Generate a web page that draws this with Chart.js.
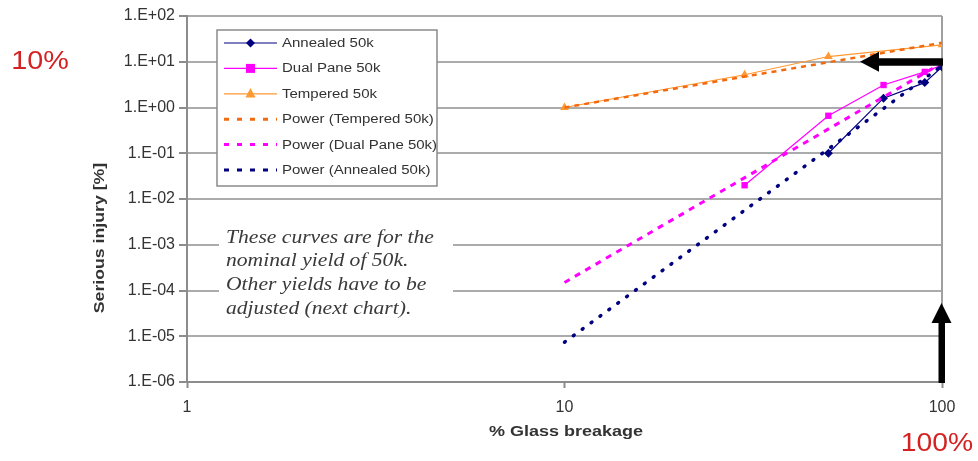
<!DOCTYPE html>
<html>
<head>
<meta charset="utf-8">
<script src="https://cdn.jsdelivr.net/npm/chart.js@4/dist/chart.umd.min.js"></script>
<style>
  html, body { margin: 0; padding: 0; background: #ffffff; }
  #wrap { width: 978px; height: 461px; position: relative; }
</style>
</head>
<body>
<div id="wrap"><canvas id="chart" width="978" height="461"></canvas></div>
<script>
// Measured points (x = % glass breakage, y = serious injury %)
const annealedX = [50, 70, 90, 100];
const annealedY = [0.1, 1.6, 3.5, 7.7];
const dualX = [30, 50, 70, 90, 100];
const dualY = [0.02, 0.66, 3.1, 6.0, 8.5];
const temperedX = [10, 30, 50, 100];
const temperedY = [1.0, 5.2, 13, 23.5];

// Power trendlines (straight on log-log axes): end points at 10% and 100%
const trendX = [10, 100];
const trendTemperedY = [1.0, 26];
const trendDualY = [1.5e-4, 9.4];
const trendAnnealedY = [7.4e-6, 8.2];

const seriesNames = ['Annealed 50k', 'Dual Pane 50k', 'Tempered 50k',
  'Power (Tempered 50k)', 'Power (Dual Pane 50k)', 'Power (Annealed 50k)'];

const xTickValues = [1, 10, 100];
const xTickLabels = ['1', '10', '100'];
const yTickValues = [1e-6, 1e-5, 1e-4, 1e-3, 1e-2, 1e-1, 1, 10, 100];
const yTickLabels = ['1.E-06', '1.E-05', '1.E-04', '1.E-03', '1.E-02', '1.E-01', '1.E+00', '1.E+01', '1.E+02'];

const noteLines = ['These curves are for the', 'nominal yield of 50k.', 'Other yields have to be', 'adjusted (next chart).'];

const NAVY = '#000080', MAGENTA = '#ff00ff', ORANGE = '#ff9933', ORANGE_DARK = '#f26a10';
const SANS = '"Liberation Sans", Arial, sans-serif';

function pts(xs, ys) { return xs.map((x, i) => ({ x: x, y: ys[i] })); }

// Text drawn slightly wide along its reading direction
function wideText(ctx, txt, x, y, font, color, align, sx, rot) {
  ctx.save();
  ctx.translate(x, y);
  if (rot) ctx.rotate(rot);
  ctx.scale(sx, 1);
  ctx.font = font;
  ctx.fillStyle = color;
  ctx.textAlign = align;
  ctx.textBaseline = 'middle';
  ctx.fillText(txt, 0, 0);
  ctx.restore();
}

function marker(ctx, style, x, y, r, color) {
  ctx.save();
  ctx.fillStyle = color;
  ctx.beginPath();
  if (style === 'rectRot') {
    ctx.moveTo(x, y - r); ctx.lineTo(x + r, y); ctx.lineTo(x, y + r); ctx.lineTo(x - r, y);
  } else if (style === 'rect') {
    ctx.rect(x - r, y - r, 2 * r, 2 * r);
  } else {
    ctx.moveTo(x, y - r * 1.15); ctx.lineTo(x + r, y + r * 0.75); ctx.lineTo(x - r, y + r * 0.75);
  }
  ctx.closePath();
  ctx.fill();
  ctx.restore();
}

const legendItems = [
  { color: NAVY, dash: [], width: 1.2, marker: 'rectRot', r: 4.5 },
  { color: MAGENTA, dash: [], width: 1.2, marker: 'rect', r: 4.5 },
  { color: ORANGE, dash: [], width: 1.2, marker: 'triangle', r: 5 },
  { color: ORANGE_DARK, dash: [5, 8], width: 3, cap: 'butt' },
  { color: MAGENTA, dash: [5, 8], width: 3, cap: 'butt' },
  { color: NAVY, dash: [5, 8], width: 3, cap: 'butt' }
];

const decorations = {
  id: 'decorations',
  beforeDatasetsDraw(chart) {
    const ctx = chart.ctx, a = chart.chartArea;
    // right frame line of the plot area
    ctx.save();
    ctx.strokeStyle = '#a0a0a0';
    ctx.lineWidth = 2;
    ctx.beginPath();
    ctx.moveTo(a.right, a.top);
    ctx.lineTo(a.right, a.bottom);
    ctx.stroke();
    ctx.restore();
  },
  afterDraw(chart) {
    const ctx = chart.ctx, a = chart.chartArea;
    const xs = chart.scales.x, ys = chart.scales.y;

    // note box
    ctx.save();
    ctx.fillStyle = '#ffffff';
    ctx.fillRect(219, 222, 234, 100);
    ctx.restore();
    noteLines.forEach((t, i) => {
      wideText(ctx, t, 226, 238 + i * 23.6, 'italic 18px "Liberation Serif", "Times New Roman", serif', '#3a3a3a', 'left', 1.2);
    });

    // legend
    const lx = 217, ly = 30, lw = 220, lh = 156;
    ctx.save();
    ctx.fillStyle = '#ffffff';
    ctx.fillRect(lx, ly, lw, lh);
    ctx.strokeStyle = '#8a8a8a';
    ctx.lineWidth = 1.5;
    ctx.strokeRect(lx, ly, lw, lh);
    ctx.restore();
    legendItems.forEach((it, i) => {
      const y = 43 + i * 25.4;
      ctx.save();
      ctx.strokeStyle = it.color;
      ctx.lineWidth = it.width;
      ctx.lineCap = it.cap || 'butt';
      ctx.setLineDash(it.dash);
      ctx.beginPath();
      ctx.moveTo(224, y);
      ctx.lineTo(277, y);
      ctx.stroke();
      ctx.restore();
      if (it.marker) marker(ctx, it.marker, 250.5, y, it.r, it.color);
      wideText(ctx, seriesNames[i], 282, y + 0.5, '12.5px ' + SANS, '#333333', 'left', 1.2);
    });

    // arrows pointing at 10% injury and 100% breakage
    const yTen = ys.getPixelForValue(10);
    const xHund = xs.getPixelForValue(100);
    ctx.save();
    ctx.fillStyle = '#000000';
    // horizontal arrow
    ctx.fillRect(877, yTen - 3.5, a.right + 1 - 877, 7.5);
    ctx.beginPath();
    ctx.moveTo(860, yTen);
    ctx.lineTo(879, yTen - 10);
    ctx.lineTo(879, yTen + 10);
    ctx.closePath();
    ctx.fill();
    // vertical arrow
    ctx.fillRect(xHund - 3.5, 322, 6.5, a.bottom + 1 - 322);
    ctx.beginPath();
    ctx.moveTo(xHund - 0.5, 303);
    ctx.lineTo(xHund + 9.5, 323);
    ctx.lineTo(xHund - 10.5, 323);
    ctx.closePath();
    ctx.fill();
    ctx.restore();

    // axis titles
    wideText(ctx, '% Glass breakage', 566, 432, 'bold 15px ' + SANS, '#333333', 'center', 1.2);
    wideText(ctx, 'Serious injury [%]', 100, 238, 'bold 15px ' + SANS, '#333333', 'center', 1.18, -Math.PI / 2);

    // red callouts
    wideText(ctx, '10%', 40, 62, '25px ' + SANS, '#d42222', 'center', 1.15);
    wideText(ctx, '100%', 937, 444, '25px ' + SANS, '#d42222', 'center', 1.13);
  }
};

const chart = new Chart(document.getElementById('chart'), {
  type: 'line',
  data: {
    datasets: [
      { label: seriesNames[0], data: pts(annealedX, annealedY), borderColor: NAVY, backgroundColor: NAVY,
        borderWidth: 1.2, pointStyle: 'rectRot', pointRadius: 4.5, pointBorderWidth: 0, order: 1 },
      { label: seriesNames[1], data: pts(dualX, dualY), borderColor: MAGENTA, backgroundColor: MAGENTA,
        borderWidth: 1.2, pointStyle: 'rect', pointRadius: 4.5, pointBorderWidth: 0, order: 1 },
      { label: seriesNames[2], data: pts(temperedX, temperedY), borderColor: ORANGE, backgroundColor: ORANGE,
        borderWidth: 1.2, pointStyle: 'triangle', pointRadius: 5, pointBorderWidth: 0, order: 1 },
      { label: seriesNames[3], data: pts(trendX, trendTemperedY), borderColor: ORANGE_DARK,
        borderWidth: 2.5, borderDash: [5, 5], pointRadius: 0, order: 0 },
      { label: seriesNames[4], data: pts(trendX, trendDualY), borderColor: MAGENTA,
        borderWidth: 3, borderDash: [6, 6], pointRadius: 0, order: 0 },
      { label: seriesNames[5], data: pts(trendX, trendAnnealedY), borderColor: NAVY,
        borderWidth: 3.5, borderDash: [1, 10], borderCapStyle: 'round', pointRadius: 0, order: 0 }
    ]
  },
  options: {
    responsive: false,
    devicePixelRatio: 1,
    animation: false,
    events: [],
    layout: { padding: { top: 16, right: 36, left: 0, bottom: 0 } },
    plugins: { legend: { display: false }, tooltip: { enabled: false } },
    scales: {
      x: {
        type: 'logarithmic',
        min: 1, max: 100,
        afterFit(scale) { scale.height = 79; },
        afterBuildTicks(scale) { scale.ticks = xTickValues.map(v => ({ value: v })); },
        ticks: {
          autoSkip: false, maxRotation: 0, padding: 10,
          color: '#333333', font: { family: SANS, size: 16 },
          callback: (v, i) => xTickLabels[i]
        },
        grid: { drawOnChartArea: false, drawTicks: true, tickLength: 6, tickColor: '#8c8c8c', tickWidth: 2 },
        border: { color: '#8c8c8c', width: 2 }
      },
      y: {
        type: 'logarithmic',
        min: 1e-6, max: 100,
        afterFit(scale) { scale.width = 187; },
        afterBuildTicks(scale) { scale.ticks = yTickValues.map(v => ({ value: v })); },
        ticks: {
          autoSkip: false, padding: 4,
          color: '#333333', font: { family: SANS, size: 16 },
          callback: (v, i) => yTickLabels[i]
        },
        grid: { color: '#ababab', lineWidth: 2, tickLength: 8, tickColor: '#8c8c8c', tickWidth: 2 },
        border: { color: '#8c8c8c', width: 2 }
      }
    }
  },
  plugins: [decorations]
});
</script>
</body>
</html>
